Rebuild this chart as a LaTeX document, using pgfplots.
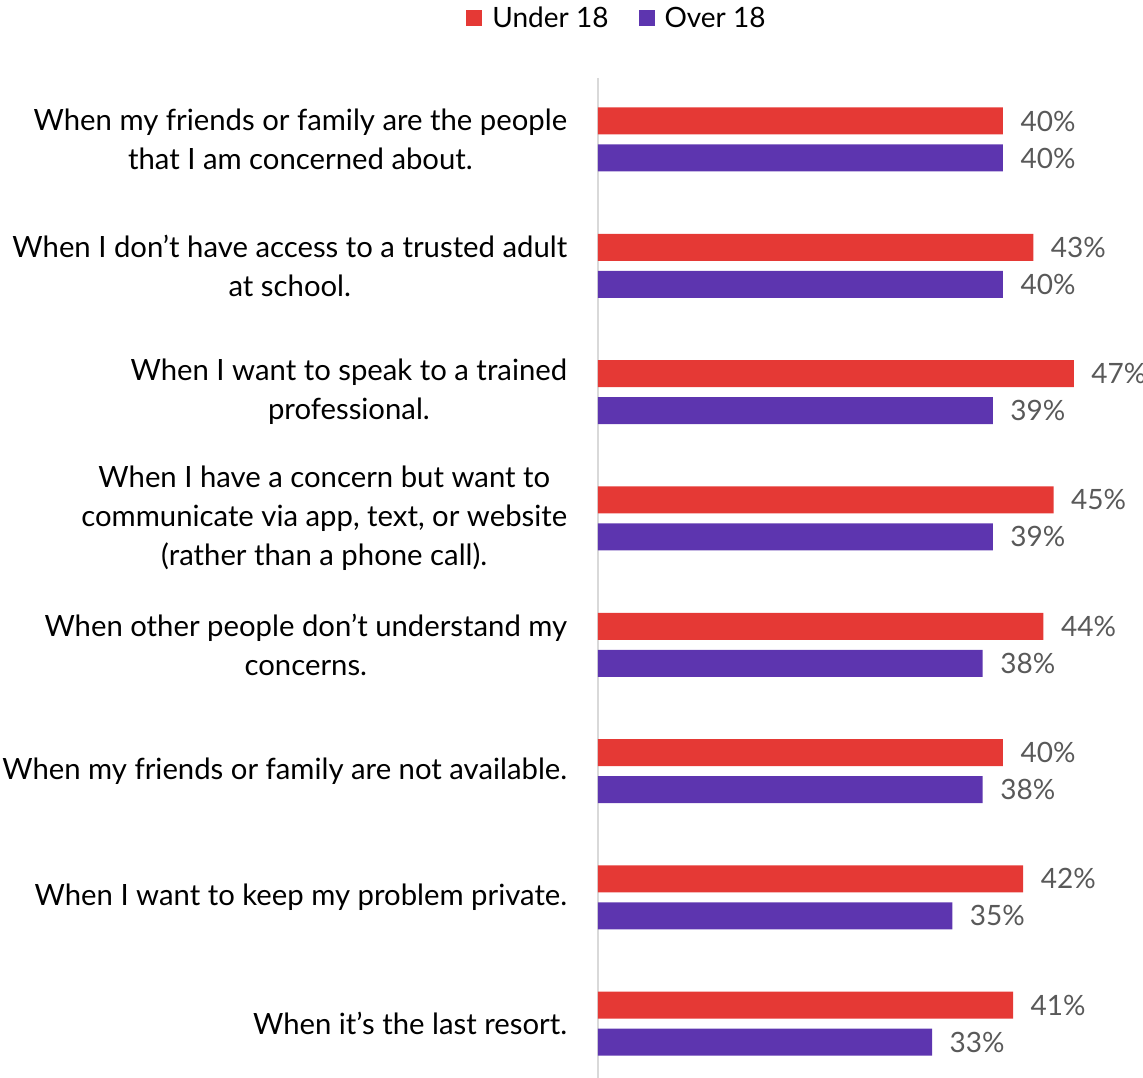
\documentclass[border=0pt]{standalone}
\usepackage{pgfplots}
\pgfplotsset{compat=1.18}
\usepackage{fontspec}
\setmainfont{Lato}
\definecolor{cred}{HTML}{E53935}
\definecolor{cpur}{HTML}{5D35AF}
\definecolor{cval}{HTML}{595959}
\definecolor{cax}{HTML}{D9D9D9}
\begin{document}
\begin{tikzpicture}
\begin{axis}[
  at={(0,0)}, anchor=south west,
  scale only axis,
  width=506.25pt, height=1000pt,
  xbar, bar width=27pt,
  xmin=0, xmax=50,
  ymin=-0.487, ymax=7.43,
  y dir=reverse,
  axis x line=none,
  axis y line*=left,
  y axis line style={draw=cax, line width=1.5pt},
  ytick={0,...,7},
  ytick style={draw=none},
  /pgf/number format/assume math mode=true,
  yticklabels={
    {When my friends or family are the people\\that I am concerned about.},
    {When I don’t have access to a trusted adult\\at school.},
    {When I want to speak to a trained\\professional.},
    {When I have a concern but want to\\communicate via app, text, or website\\(rather than a phone call).},
    {When other people don’t understand my\\concerns.},
    {When my friends or family are not available.},
    {When I want to keep my problem private.},
    {When it’s the last resort.}
  },
  yticklabel style={align=center, font=\fontsize{29.3}{39}\selectfont, text=black, xshift=-23pt},
  nodes near coords={\pgfmathprintnumber{\pgfplotspointmeta}\%},
  nodes near coords style={font=\fontsize{28}{34}\selectfont, text=cval, anchor=west, xshift=14pt},
  legend style={at={(0.0375,1.06)}, anchor=center, draw=none, legend columns=2,
    font=\fontsize{28}{34}\selectfont, /tikz/every even column/.append style={column sep=28pt}},
  legend image code/.code={\fill[#1] (0pt,-8pt) rectangle (16pt,8pt); \path (24pt,0pt);},
]
\addplot[fill=cred, draw=none, bar shift=18.5pt] coordinates {
(40,0) (43,1) (47,2) (45,3) (44,4) (40,5) (42,6) (41,7)};
\addlegendentry{Under 18}
\addplot[fill=cpur, draw=none, bar shift=-18.5pt] coordinates {
(40,0) (40,1) (39,2) (39,3) (38,4) (38,5) (35,6) (33,7)};
\addlegendentry{Over 18}
\end{axis}
\pgfresetboundingbox
\path (-598pt,0pt) rectangle (545pt,1078pt);
\end{tikzpicture}
\end{document}
